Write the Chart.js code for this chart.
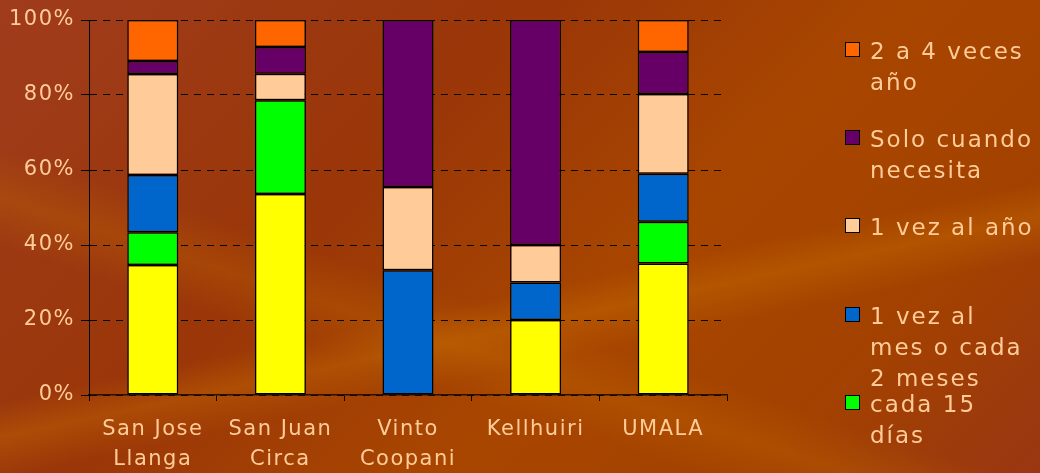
<!DOCTYPE html>
<html>
<head>
	<meta charset="utf-8">
	<title>Frecuencia</title>
	<script src="https://cdn.jsdelivr.net/npm/chart.js@4.4.0/dist/chart.umd.min.js"></script>
	<style>
		body { margin: 0; width: 1040px; height: 473px; overflow: hidden;
			font-family: "DejaVu Sans", Verdana, sans-serif;
			background:
				linear-gradient(168deg, transparent 58%, rgba(205,115,0,0.35) 63%, transparent 69%),
				linear-gradient(18deg, transparent 28%, rgba(195,105,0,0.3) 34%, transparent 40%),
				linear-gradient(135deg, #a03c1c 0%, #9a3608 35%, #a84600 60%, #a34200 80%, #9a3612 100%);
		}
		#wrap { position: relative; width: 1040px; height: 473px; }
		#legend { position: absolute; left: 845px; top: 0; }
		.box { position: absolute; left: 0; width: 13px; height: 13px; border: 1px solid #000; }
		.txt { position: absolute; left: 25px; color: #FFCC99; font-size: 23px; line-height: 31px;
			letter-spacing: 2px; white-space: nowrap; }
	</style>
</head>
<body>
<div id="wrap">
	<canvas id="mychart" width="1040" height="473"></canvas>
	<div id="legend"></div>
</div>

<script type="text/javascript">

	const categories = [['San Jose', 'Llanga'], ['San Juan', 'Circa'], ['Vinto', 'Coopani'], ['Kellhuiri'], ['UMALA']];
	const tickLabels = ['0%', '20%', '40%', '60%', '80%', '100%'];

	// bottom to top
	const amarillo      = [34.7, 53.6, null, 20.0, 35.1];
	const cada15Dias    = [8.7, 25.0, null, null, 11.1];
	const mesODosMeses  = [15.3, null, 33.3, 10.0, 12.8];
	const vezAlAnio     = [26.9, 7.1, 22.2, 10.0, 21.3];
	const soloNecesita  = [3.5, 7.1, 44.5, 60.0, 11.2];
	const dosACuatro    = [10.9, 7.2, null, null, 8.5];

	const series = [
		{ label: null, data: amarillo, color: '#FFFF00' },
		{ label: ['cada 15', 'días'], data: cada15Dias, color: '#00FF00' },
		{ label: ['1 vez al', 'mes o cada', '2 meses'], data: mesODosMeses, color: '#0066CC' },
		{ label: ['1 vez al año'], data: vezAlAnio, color: '#FFCC99' },
		{ label: ['Solo cuando', 'necesita'], data: soloNecesita, color: '#660066' },
		{ label: ['2 a 4 veces', 'año'], data: dosACuatro, color: '#FF6600' }
	];

	// legend box tops, top to bottom (orange first)
	const legendTops = [42, 130, 218, 307, 395];

	const spacing = {
		id: 'spacing',
		beforeUpdate(c) { c.ctx.letterSpacing = '1.5px'; },
		beforeDraw(c) { c.ctx.letterSpacing = '1.5px'; }
	};

	const ctx = document.getElementById('mychart').getContext('2d');
	const myChart = new Chart(ctx, {
		type: 'bar',
		data: {
			labels: categories,
			datasets: series.map(s => ({
				label: s.label ? s.label.join(' ') : '',
				data: s.data,
				backgroundColor: s.color,
				borderColor: '#000',
				borderWidth: 1.5,
				borderSkipped: false,
				barPercentage: 0.8,
				categoryPercentage: 0.5
			}))
		},
		options: {
			responsive: false,
			animation: false,
			layout: { padding: { top: 20, right: 313, left: 0, bottom: 0 } },
			plugins: { legend: { display: false }, tooltip: { enabled: false } },
			scales: {
				x: {
					stacked: true,
					grid: { offset: true, drawOnChartArea: false, drawTicks: true, tickLength: 6, color: '#000' },
					border: { color: '#2a1000', width: 1.5 },
					ticks: { color: '#FFCC99', font: { family: 'DejaVu Sans', size: 21, lineHeight: 1.43 }, padding: 14, maxRotation: 0 },
					afterFit(scale) { scale.height = 78; }
				},
				y: {
					stacked: true,
					min: 0,
					max: 100,
					grid: { color: '#000', lineWidth: 1, tickLength: 8, tickBorderDash: [] },
					border: { color: '#000', width: 1, dash: [7, 6] },
					ticks: {
						stepSize: 20,
						color: '#FFCC99',
						font: { family: 'DejaVu Sans', size: 21 },
						padding: 6,
						callback: (v) => tickLabels[v / 20]
					},
					afterFit(scale) { scale.width = 89; }
				}
			}
		},
		plugins: [spacing]
	});

	// html legend, reversed like the stacking
	const legend = document.getElementById('legend');
	series.slice(1).reverse().forEach((s, i) => {
		const box = document.createElement('div');
		box.className = 'box';
		box.style.top = legendTops[i] + 'px';
		box.style.background = s.color;
		const txt = document.createElement('div');
		txt.className = 'txt';
		txt.style.top = (legendTops[i] - 6) + 'px';
		txt.innerHTML = s.label.join('<br>');
		legend.appendChild(box);
		legend.appendChild(txt);
	});

</script>
</body>
</html>
